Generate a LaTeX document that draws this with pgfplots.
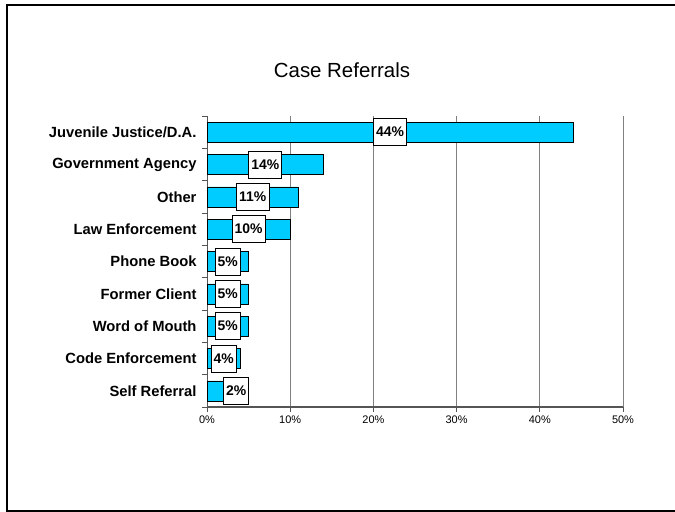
\documentclass[border=0pt]{standalone}
\usepackage{pgfplots}
\pgfplotsset{compat=1.18}
\usepackage{pgfplotstable}
\usepackage{fontspec}
\setmainfont{Liberation Sans}
\definecolor{barcyan}{HTML}{00CCFF}
\definecolor{gridgray}{HTML}{808080}
\definecolor{axisgray}{HTML}{555555}

\pgfplotstableread{
pos val
0 44
1 14
2 11
3 10
4 5
5 5
6 5
7 4
8 2
}\bars

\pgfplotstableread{
x pos val
22 0 44
7 1 14
5.5 2 11
5 3 10
2.5 4 5
2.5 5 5
2.5 6 5
2 7 4
3.5 8 2
}\labels

\begin{document}
\begin{tikzpicture}[x=1bp,y=1bp]
\useasboundingbox (0,0) rectangle (675,512);
\draw[line width=2bp] (675,1) -- (7,1) -- (7,506.5) -- (675,506.5);
\node[anchor=base,font=\fontsize{20.5}{24}\selectfont] at (342,434.7) {Case Referrals};
\begin{axis}[
  at={(207bp,105bp)}, anchor=south west,
  width=416bp, height=291bp, scale only axis,
  xmin=0, xmax=50, ymin=-0.5, ymax=8.5,
  y dir=reverse,
  axis x line*=bottom, axis y line*=left,
  x axis line style={draw=axisgray,line width=1.2bp,-},
  y axis line style={draw=axisgray,line width=0.8bp,-},
  xtick={0,10,...,50},
  xticklabel={\pgfmathprintnumber{\tick}\%},
  xticklabel style={font=\fontsize{11}{13}\selectfont},
  /pgf/number format/assume math mode=true,
  ytick={0,...,8},
  yticklabels={Juvenile Justice/D.A.,Government Agency,Other,Law Enforcement,Phone Book,Former Client,Word of Mouth,Code Enforcement,Self Referral},
  yticklabel style={font=\bfseries\fontsize{14.8}{17}\selectfont, xshift=-2bp},
  minor ytick={-0.5,0.5,...,8.5},
  tick align=outside,
  major tick length=5bp, minor tick length=5bp,
  every major y tick/.style={draw=none},
  tick style={draw=axisgray,line width=0.8bp},
  xmajorgrids, major grid style={draw=gridgray,line width=0.8bp},
  clip=false,
]
\addplot[xbar, bar width=20bp, fill=barcyan, draw=black, line width=0.6bp] table[x=val,y=pos] {\bars};
\addplot[draw=none, mark=none, nodes near coords={\pgfmathprintnumber{\pgfplotspointmeta}\%},
  point meta=explicit,
  every node near coord/.style={anchor=center, fill=white, draw=black, line width=0.6bp,
    font=\bfseries\fontsize{14}{16}\selectfont, inner xsep=2.5bp, inner ysep=0bp,
    minimum height=27bp}] table[x=x,y=pos,meta=val] {\labels};
\end{axis}
\end{tikzpicture}
\end{document}
